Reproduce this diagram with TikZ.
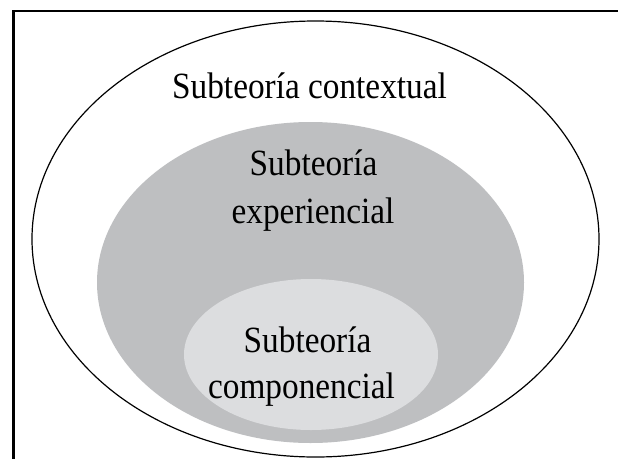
\documentclass[tikz,border=0pt]{standalone}
\usepackage{fontspec}
\setmainfont{Liberation Serif}
\usetikzlibrary{shapes.geometric,positioning}

\definecolor{grayMid}{RGB}{190,191,193}
\definecolor{grayLight}{RGB}{220,221,223}

\begin{document}
\begin{tikzpicture}
[x=1pt, y=-1pt, line width=1.2pt,
theory/.style={ellipse, inner sep=0pt, outer sep=0pt},
ctxTheory/.style={theory, draw=black, fill=white, minimum width=567pt, minimum height=436pt},
expTheory/.style={theory, fill=grayMid, minimum width=427pt, minimum height=321pt},
compTheory/.style={theory, fill=grayLight, minimum width=254pt, minimum height=151pt},
lbl/.style={anchor=base, inner sep=0pt, font=\fontsize{37}{44}\selectfont, xscale=0.9, transform shape}
]

\useasboundingbox (0,0) rectangle (618,458);

% Frame (cut at right and bottom)
\draw[line width=2.6pt] (13.5,460) -- (13.5,11) -- (620,11);

% Nested theories
\node[ctxTheory] (ctx) at (315.5,239) {};
\node[expTheory] (exp) at (310.5,282.5) {};
\node[compTheory] (comp) at (311,354.5) {};

% Labels
\node[lbl] (ctxlbl) at (309.5,98) {Subteoría contextual};
\node[lbl] (explblA) at (313.5,175) {Subteoría};
\node[lbl] (explblB) at (313,223) {experiencial};
\node[lbl] (complblA) at (307.5,352) {Subteoría};
\node[lbl] (complblB) at (301.5,398) {componencial};
\end{tikzpicture}
\end{document}
